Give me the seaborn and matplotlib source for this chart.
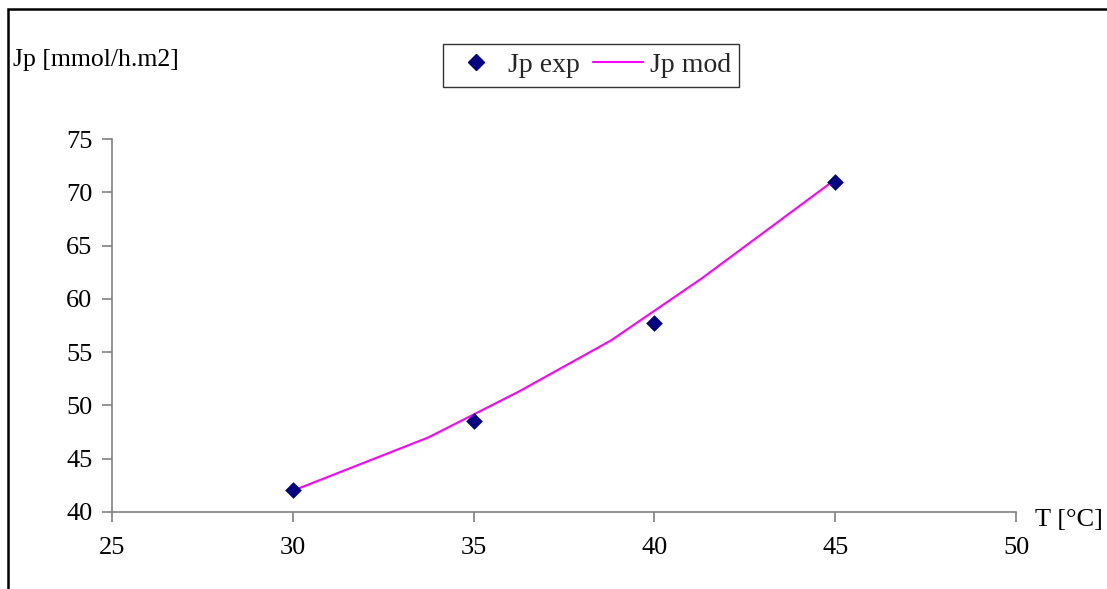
import matplotlib
matplotlib.use("Agg")
import matplotlib.pyplot as plt
import seaborn as sns
import pandas as pd
from matplotlib.lines import Line2D
from matplotlib.patches import Rectangle

# Experimental permeate flux
t_exp = [30, 35, 40, 45]
jp_exp = [42.1, 48.5, 57.7, 71.0]

# Model permeate flux
t_mod = [30, 33.75, 36.25, 38.8, 41.3, 45]
jp_mod = [42.0, 47.0, 51.3, 56.1, 61.9, 71.2]

x_ticks = [25, 30, 35, 40, 45, 50]
y_ticks = [40, 45, 50, 55, 60, 65, 70, 75]

sns.set_theme(style="white")
plt.rcParams["font.family"] = ["Liberation Serif", "DejaVu Serif"]

W, H = 1107, 589
fig = plt.figure(figsize=(W / 100, H / 100), dpi=100)
ax = fig.add_axes([112 / W, 1 - 512 / H, (1016 - 112) / W, (512 - 139) / H])

df_exp = pd.DataFrame({"T": t_exp, "Jp": jp_exp})
df_mod = pd.DataFrame({"T": t_mod, "Jp": jp_mod})

sns.lineplot(data=df_mod, x="T", y="Jp", ax=ax, color="#FF00FF", lw=1.5,
             zorder=2)
sns.scatterplot(data=df_exp, x="T", y="Jp", ax=ax, marker="D", s=72,
                color="#000080", edgecolor="#000080", linewidth=0, zorder=3)

ax.set_xlim(25, 50)
ax.set_ylim(40, 75)
ax.set_xticks(x_ticks)
ax.set_yticks(y_ticks)
ax.set_xlabel("")
ax.set_ylabel("")

for side in ("top", "right"):
    ax.spines[side].set_visible(False)
for side in ("left", "bottom"):
    ax.spines[side].set_color("#808080")
    ax.spines[side].set_linewidth(1.2)

ax.tick_params(axis="both", which="major", direction="out", length=7,
               width=1.2, color="#808080", labelsize=19, labelcolor="black",
               left=True, bottom=True)
ax.tick_params(axis="x", pad=11)
ax.tick_params(axis="y", pad=7)

# Axis titles at the ends of the axes
fig.text(13 / W, 1 - 60 / H, "Jp [mmol/h.m2]", fontsize=18.5, ha="left",
         va="center", color="black")
fig.text(1035 / W, 1 - 520 / H, "T [°C]", fontsize=19, ha="left",
         va="center", color="black")

handles = [
    Line2D([], [], marker="D", ls="none", color="#000080", ms=8),
    Line2D([], [], color="#FF00FF", lw=1.5),
]
leg = fig.legend(handles, ["Jp exp", "Jp mod"], ncol=2, loc="center",
                 bbox_to_anchor=(591 / W, 1 - 65.5 / H), fontsize=20,
                 frameon=True, fancybox=False, edgecolor="black",
                 handlelength=1.8, handletextpad=0.25, columnspacing=0.45,
                 borderpad=0.3, borderaxespad=0)
leg.get_frame().set_linewidth(1.0)

# Outer chart frame
fig.patches.append(Rectangle((8 / W, -0.1), 1.2, 1 - 9 / H + 0.1,
                             transform=fig.transFigure, fill=False,
                             edgecolor="black", lw=1.8))

fig.savefig("out.png", dpi=100)
